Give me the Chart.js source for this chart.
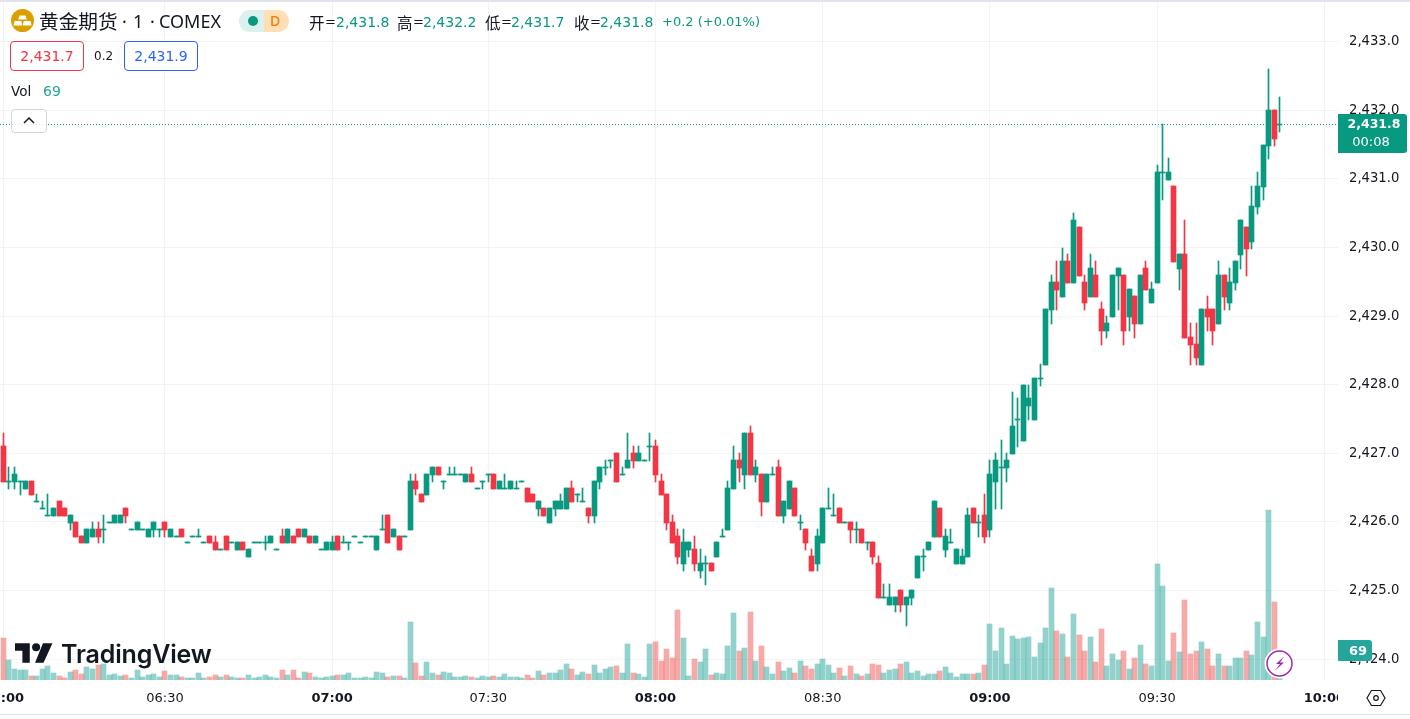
<!DOCTYPE html>
<html>
<head>
<meta charset="utf-8">
<title>黄金期货 COMEX</title>
<script src="https://cdn.jsdelivr.net/npm/chart.js@4/dist/chart.umd.min.js"></script>
<style>
  html, body { margin: 0; padding: 0; background: #fff; overflow: hidden; }
  body { width: 1410px; height: 719px; position: relative; font-family: "DejaVu Sans", "Noto Sans CJK SC", sans-serif; color: #131722; }
  canvas { position: absolute; left: 0; top: 0; }
  .t { position: absolute; white-space: nowrap; line-height: 20px; font-size: 14px; }
  .c { font-family: "Noto Sans CJK SC"; font-size: 15.5px; }
  .s { font-family: "Noto Sans"; font-size: 18px; }
  .up { color: #089981; }
  .box { position: absolute; top: 41px; width: 72px; height: 28px; border: 1px solid; border-radius: 4px; background: #fff; text-align: center; line-height: 28px; font-size: 14px; }
  .edge { position: absolute; left: 0; width: 1410px; background: #e0e3eb; }
</style>
</head>
<body>
<canvas id="chart" width="1410" height="719"></canvas>
<div class="edge" style="top:0;height:2px"></div>
<div class="edge" style="top:714px;height:1px"></div>

<svg style="position:absolute;left:11px;top:9px" width="23" height="23" viewBox="0 0 23 23">
  <circle cx="11.5" cy="11.5" r="11.5" fill="#dc9f00"/>
  <path d="M8.5 6.5h6l1.2 4H7.3zM3.5 12h6.8l1 4.5H2.5zM12.7 12h6.8l1 4.5h-8.8z" fill="#fff"/>
</svg>
<div class="t" style="left:39px;top:11px;font-family:'Noto Sans CJK SC';font-size:19.700px">黄金期货</div>
<div class="t s" style="left:122px;top:11px">·</div>
<div class="t s" style="left:133px;top:11px">1</div>
<div class="t s" style="left:150px;top:11px">·</div>
<div class="t s" style="left:159px;top:11px">COMEX</div>
<div style="position:absolute;left:239px;top:10px;width:25px;height:22px;background:#daf1ed;border-radius:11px 0 0 11px"></div>
<div style="position:absolute;left:248px;top:16px;width:10px;height:10px;background:#089981;border-radius:5px"></div>
<div style="position:absolute;left:264px;top:10px;width:25px;height:22px;background:#ffdfb5;border-radius:0 11px 11px 0"></div>
<div class="t" style="left:270px;top:11px;color:#f57c00;font-family:'Noto Sans';font-weight:500">D</div>

<div class="t c" style="left:309px;top:12px">开</div><div class="t" style="left:325px;top:12px;font-size:13px">=</div><div class="t up" style="left:336px;top:12px">2,431.8</div>
<div class="t c" style="left:397px;top:12px">高</div><div class="t" style="left:413px;top:12px;font-size:13px">=</div><div class="t up" style="left:423px;top:12px">2,432.2</div>
<div class="t c" style="left:485px;top:12px">低</div><div class="t" style="left:501px;top:12px;font-size:13px">=</div><div class="t up" style="left:511px;top:12px">2,431.7</div>
<div class="t c" style="left:574px;top:12px">收</div><div class="t" style="left:590px;top:12px;font-size:13px">=</div><div class="t up" style="left:600px;top:12px">2,431.8</div>
<div class="t up" style="left:662px;top:12px;font-size:13px">+0.2 (+0.01%)</div>

<div class="box" style="left:10px;border-color:#f23645;color:#f23645">2,431.7</div>
<div class="t" style="left:94px;top:46px;font-size:12px">0.2</div>
<div class="box" style="left:124px;border-color:#2962ff;color:#2962ff">2,431.9</div>
<div class="t" style="left:11px;top:81px;font-size:13.500px">Vol</div>
<div class="t" style="left:43px;top:81px;color:#26a69a">69</div>
<div style="position:absolute;left:11px;top:109px;width:34px;height:22px;border:1px solid #d1d4dc;border-radius:4px;background:rgba(255,255,255,.85)"></div>
<svg style="position:absolute;left:22px;top:116px" width="14" height="9" viewBox="0 0 14 9"><path d="M2 7l5-5 5 5" fill="none" stroke="#131722" stroke-width="1.5"/></svg>

<svg style="position:absolute;left:15px;top:643px" width="38" height="20" viewBox="0 0 36 18.5">
  <path d="M14 18.5H7V7H0V0h14zM27 18.5h-8L26.5 0h9z" fill="#131722"/><circle cx="20" cy="3.8" r="3.8" fill="#131722"/>
</svg>
<div class="t" style="left:61px;top:639px;font-family:Inter;font-weight:600;font-size:25px;line-height:30px;letter-spacing:-.15px">TradingView</div>

<div style="position:absolute;left:1338px;top:114px;width:69px;height:39px;background:#089981;border-radius:0 3px 3px 0"></div>
<div class="t" style="left:1338px;width:72px;top:114px;color:#fff;text-align:center;font-weight:bold;font-size:12.500px">2,431.8</div>
<div class="t" style="left:1338px;width:72px;top:132px;color:#fff;text-align:center;font-size:13px;margin-left:-3px">00:08</div>
<div style="position:absolute;left:1338px;top:640px;width:34px;height:21px;background:#26a69a;border-radius:0 3px 3px 0"></div>
<div class="t" style="left:1338px;width:40px;top:641px;color:#fff;text-align:center;font-weight:bold;font-size:13px">69</div>

<svg style="position:absolute;left:1264px;top:648px" width="31" height="31" viewBox="0 0 31 31">
  <circle cx="15.5" cy="15.5" r="15" fill="#fff"/>
  <circle cx="15.5" cy="15.5" r="12.500" fill="#fff" stroke="#9c27b0" stroke-width="1.500"/>
  <path d="M20 8.500l-8 7.500h4l-5 6.500 9-8h-4z" fill="#9c27b0"/>
</svg>
<svg style="position:absolute;left:1366px;top:689px" width="20" height="18" viewBox="0 0 20 18">
  <path d="M5.500 1.500h9L19 9l-4.500 7.500h-9L1 9z" fill="none" stroke="#131722" stroke-width="1.200"/><circle cx="10" cy="9" r="2.300" fill="none" stroke="#131722" stroke-width="1.200"/>
</svg>

<script>
const opens = [
  2427.1,2426.6,2426.6,2426.6,2426.5,2426.6,2426.3,2426.2,2426.1,2426.1,
  2426.3,2426.2,2426.0,2426.0,2425.8,2425.7,2425.8,2425.9,2425.9,2426.0,
  2426.0,2426.0,2426.2,2425.9,2425.9,2425.9,2425.8,2425.9,2425.9,2426.0,
  2425.8,2425.8,2425.9,2425.7,2425.8,2425.8,2425.7,2425.8,2425.7,2425.6,
  2425.8,2425.7,2425.6,2425.7,2425.5,2425.7,2425.7,2425.7,2425.7,2425.6,
  2425.8,2425.7,2425.8,2425.9,2425.8,2425.8,2425.7,2425.6,2425.6,2425.6,
  2425.8,2425.7,2425.7,2425.8,2425.7,2425.8,2425.8,2425.6,2425.9,2426.1,
  2425.8,2425.8,2425.8,2425.9,2426.6,2426.4,2426.4,2426.7,2426.8,2426.6,
  2426.7,2426.7,2426.7,2426.6,2426.7,2426.5,2426.6,2426.7,2426.7,2426.5,
  2426.5,2426.5,2426.5,2426.6,2426.5,2426.4,2426.2,2426.2,2426.0,2426.2,
  2426.2,2426.2,2426.5,2426.4,2426.3,2426.2,2426.1,2426.6,2426.8,2426.9,
  2427.0,2426.7,2426.8,2427.0,2426.9,2426.9,2427.1,2427.1,2426.6,2426.4,
  2426.0,2425.8,2425.4,2425.6,2425.6,2425.3,2425.4,2425.4,2425.5,2425.8,
  2425.9,2426.5,2426.9,2426.7,2427.3,2426.7,2426.7,2426.3,2426.7,2426.8,
  2426.1,2426.2,2426.5,2426.0,2425.9,2425.5,2425.4,2425.7,2426.2,2426.1,
  2426.2,2426.0,2426.0,2425.9,2425.9,2425.7,2425.7,2425.4,2424.9,2424.8,
  2424.8,2425.0,2424.8,2424.9,2425.2,2425.5,2425.6,2425.8,2426.2,2425.6,
  2425.7,2425.4,2425.4,2425.5,2426.2,2426.0,2426.1,2425.9,2426.6,2426.8,
  2426.8,2427.0,2427.5,2427.2,2427.7,2427.5,2428.1,2428.3,2429.1,2429.5,
  2429.3,2429.8,2429.5,2430.3,2429.5,2429.3,2429.6,2429.1,2428.8,2429.0,
  2429.6,2429.6,2429.0,2429.3,2428.9,2429.7,2429.2,2429.5,2431.1,2431.0,
  2430.9,2429.7,2429.9,2428.7,2428.6,2428.3,2429.1,2429.1,2428.9,2429.6,
  2429.2,2429.5,2429.9,2430.3,2430.1,2430.6,2430.9,2431.5,2432.0,2431.8
];
const closes = [
  2426.6,2426.6,2426.7,2426.6,2426.6,2426.4,2426.3,2426.2,2426.1,2426.2,
  2426.1,2426.1,2426.1,2425.8,2425.7,2425.9,2425.9,2425.8,2425.9,2426.0,
  2426.1,2426.1,2426.1,2425.9,2426.0,2425.9,2425.9,2426.0,2425.9,2425.9,
  2425.9,2425.8,2425.8,2425.7,2425.8,2425.8,2425.7,2425.7,2425.6,2425.6,
  2425.6,2425.7,2425.7,2425.6,2425.6,2425.7,2425.7,2425.7,2425.8,2425.6,
  2425.7,2425.9,2425.7,2425.8,2425.9,2425.7,2425.8,2425.6,2425.7,2425.7,
  2425.6,2425.7,2425.7,2425.8,2425.7,2425.8,2425.8,2425.8,2425.9,2425.7,
  2425.9,2425.6,2425.8,2426.6,2426.5,2426.3,2426.7,2426.8,2426.7,2426.6,
  2426.7,2426.7,2426.7,2426.7,2426.6,2426.5,2426.6,2426.7,2426.5,2426.6,
  2426.5,2426.6,2426.5,2426.6,2426.3,2426.3,2426.3,2426.1,2426.2,2426.3,
  2426.3,2426.5,2426.3,2426.4,2426.3,2426.1,2426.6,2426.8,2426.8,2426.9,
  2426.6,2426.7,2426.9,2426.9,2427.0,2426.9,2427.1,2426.7,2426.4,2426.0,
  2425.7,2425.5,2425.7,2425.7,2425.4,2425.4,2425.4,2425.3,2425.7,2425.8,
  2426.5,2426.9,2426.8,2427.3,2426.7,2426.8,2426.3,2426.7,2426.7,2426.1,
  2426.3,2426.6,2426.1,2426.0,2425.7,2425.3,2425.8,2426.2,2426.2,2426.1,
  2426.0,2426.0,2425.9,2425.9,2425.7,2425.7,2425.5,2424.9,2424.9,2424.9,
  2424.9,2424.8,2424.9,2425.0,2425.5,2425.5,2425.7,2426.3,2425.8,2425.8,
  2425.7,2425.6,2425.5,2426.1,2426.0,2426.0,2425.8,2426.7,2426.9,2426.8,
  2426.9,2427.4,2427.5,2428.0,2427.8,2428.1,2428.1,2429.1,2429.5,2429.4,
  2429.8,2429.5,2430.4,2429.6,2429.2,2429.7,2429.3,2428.8,2428.9,2429.6,
  2429.7,2428.8,2429.4,2428.9,2429.6,2429.4,2429.4,2431.1,2431.1,2431.1,
  2429.8,2429.9,2428.7,2428.6,2428.4,2429.1,2429.0,2428.8,2429.6,2429.3,
  2429.5,2429.8,2430.4,2430.0,2430.6,2430.9,2431.5,2432.0,2431.6,2431.8
];
const highs = [
  2427.3,2426.8,2426.8,2426.6,2426.6,2426.6,2426.4,2426.3,2426.4,2426.2,
  2426.3,2426.2,2426.1,2426.0,2425.8,2425.9,2426.0,2426.0,2426.1,2426.0,
  2426.1,2426.1,2426.2,2425.9,2426.0,2425.9,2425.9,2426.0,2425.9,2426.0,
  2425.9,2425.8,2425.9,2425.7,2425.8,2425.9,2425.7,2425.8,2425.8,2425.6,
  2425.8,2425.7,2425.7,2425.7,2425.6,2425.7,2425.7,2425.8,2425.8,2425.6,
  2425.9,2425.9,2425.8,2425.9,2425.9,2425.8,2425.8,2425.6,2425.7,2425.8,
  2425.8,2425.8,2425.7,2425.8,2425.7,2425.8,2425.8,2425.8,2426.1,2426.1,
  2425.9,2425.8,2425.8,2426.7,2426.7,2426.4,2426.7,2426.8,2426.8,2426.6,
  2426.8,2426.8,2426.7,2426.7,2426.8,2426.5,2426.6,2426.7,2426.7,2426.6,
  2426.7,2426.6,2426.6,2426.6,2426.5,2426.4,2426.3,2426.2,2426.2,2426.3,
  2426.4,2426.5,2426.6,2426.4,2426.5,2426.2,2426.6,2426.8,2426.9,2426.9,
  2427.0,2426.8,2427.3,2427.1,2427.1,2426.9,2427.3,2427.2,2426.7,2426.4,
  2426.1,2425.9,2425.9,2425.7,2425.8,2425.6,2425.5,2425.4,2425.7,2425.9,
  2426.6,2427.1,2427.0,2427.3,2427.4,2426.9,2426.7,2426.7,2426.8,2426.9,
  2426.3,2426.6,2426.5,2426.1,2425.9,2425.6,2425.9,2426.2,2426.5,2426.4,
  2426.2,2426.0,2426.0,2426.0,2425.9,2425.7,2425.7,2425.5,2425.1,2425.1,
  2424.9,2425.0,2424.9,2425.0,2425.5,2425.6,2425.7,2426.3,2426.2,2425.9,
  2425.9,2425.6,2425.6,2426.2,2426.2,2426.1,2426.4,2426.9,2427.0,2427.2,
  2427.0,2427.9,2427.8,2428.0,2428.0,2428.1,2428.3,2429.1,2429.6,2429.8,
  2430.0,2429.9,2430.5,2430.3,2429.6,2429.9,2429.8,2429.2,2429.0,2429.6,
  2429.7,2429.6,2429.4,2429.3,2429.6,2429.8,2429.5,2431.2,2431.8,2431.3,
  2430.9,2429.9,2430.4,2428.9,2428.9,2429.1,2429.3,2429.1,2429.8,2429.6,
  2429.7,2429.8,2430.4,2430.3,2430.9,2431.1,2431.5,2432.6,2432.0,2432.2
];
const lows = [
  2426.6,2426.5,2426.5,2426.4,2426.5,2426.4,2426.3,2426.2,2426.1,2426.1,
  2426.1,2426.1,2425.9,2425.8,2425.7,2425.7,2425.8,2425.7,2425.7,2426.0,
  2426.0,2426.0,2426.0,2425.9,2425.9,2425.9,2425.8,2425.8,2425.8,2425.8,
  2425.8,2425.8,2425.8,2425.7,2425.8,2425.8,2425.7,2425.7,2425.6,2425.6,
  2425.6,2425.7,2425.6,2425.6,2425.5,2425.7,2425.7,2425.6,2425.7,2425.6,
  2425.7,2425.7,2425.7,2425.8,2425.8,2425.7,2425.7,2425.6,2425.6,2425.6,
  2425.6,2425.7,2425.6,2425.8,2425.7,2425.8,2425.8,2425.6,2425.9,2425.7,
  2425.8,2425.6,2425.8,2425.9,2426.4,2426.3,2426.4,2426.6,2426.7,2426.5,
  2426.7,2426.7,2426.7,2426.6,2426.6,2426.5,2426.5,2426.6,2426.5,2426.5,
  2426.5,2426.5,2426.5,2426.6,2426.3,2426.3,2426.1,2426.1,2426.0,2426.1,
  2426.2,2426.2,2426.3,2426.3,2426.3,2426.0,2426.0,2426.5,2426.7,2426.8,
  2426.6,2426.7,2426.8,2426.8,2426.9,2426.9,2426.9,2426.6,2426.4,2425.9,
  2425.7,2425.4,2425.3,2425.5,2425.3,2425.2,2425.1,2425.3,2425.5,2425.8,
  2425.9,2426.5,2426.6,2426.5,2426.7,2426.6,2426.1,2426.3,2426.7,2426.1,
  2426.0,2426.2,2426.1,2425.9,2425.6,2425.3,2425.3,2425.7,2426.2,2426.1,
  2426.0,2426.0,2425.7,2425.7,2425.7,2425.6,2425.4,2424.9,2424.9,2424.8,
  2424.7,2424.7,2424.5,2424.8,2425.2,2425.3,2425.6,2425.8,2425.8,2425.5,
  2425.7,2425.4,2425.4,2425.5,2426.0,2425.8,2425.7,2425.8,2426.2,2426.2,
  2426.6,2427.0,2427.1,2427.2,2427.5,2427.5,2428.0,2428.3,2428.9,2429.1,
  2429.3,2429.5,2429.5,2429.6,2429.1,2429.3,2429.3,2428.6,2428.7,2429.0,
  2429.1,2428.6,2428.8,2428.7,2428.9,2429.4,2429.2,2429.5,2430.7,2431.0,
  2429.8,2429.4,2428.7,2428.3,2428.3,2428.3,2428.8,2428.6,2428.9,2429.1,
  2429.1,2429.4,2429.7,2429.6,2430.0,2430.5,2430.7,2431.3,2431.5,2431.7
];
const volumes = [
  100,48,26,24,24,10,10,26,33,17,
  10,5,19,24,14,31,26,36,38,12,
  14,10,12,5,24,7,12,14,7,21,
  12,12,7,5,5,17,5,7,12,7,
  12,7,5,5,12,5,7,12,7,5,
  24,12,24,5,19,17,7,5,7,10,
  12,12,17,5,5,7,5,19,17,7,
  10,10,5,138,40,10,43,17,12,19,
  17,7,7,10,7,5,10,7,10,7,
  14,7,7,5,12,5,21,12,17,17,
  24,38,26,12,19,14,36,17,26,31,
  33,17,86,17,14,7,86,90,45,74,
  52,167,100,10,50,43,74,12,17,14,
  81,159,69,76,162,45,81,31,14,43,
  21,29,17,45,33,26,38,50,36,17,
  29,10,33,14,10,14,38,36,17,24,
  26,38,43,17,21,10,14,14,21,31,
  17,7,14,14,14,17,36,133,69,124,
  38,105,98,100,102,55,88,124,219,117,
  109,55,157,107,69,102,43,121,33,62,
  48,69,26,52,83,38,33,276,224,45,
  112,67,190,62,69,90,74,33,62,33,
  33,52,52,69,60,138,102,405,186,69
];
const timeTicks = [0, 29, 59, 87, 117, 147, 177, 207, 237];
const timeLabels = ['06:00', '06:30', '07:00', '07:30', '08:00', '08:30', '09:00', '09:30', '10:00'];
const priceTicks = [2424, 2425, 2426, 2427, 2428, 2429, 2430, 2431, 2432, 2433];
const priceLabels = ['2,424.0', '2,425.0', '2,426.0', '2,427.0', '2,428.0', '2,429.0', '2,430.0', '2,431.0', '2,432.0', '2,433.0'];

const UP = '#089981';
const DOWN = '#f23645';
const X_MIN = -0.592;
const X_MAX = 239.45;
const lastClose = closes[closes.length - 1];
const isDown = (i) => closes[i] < opens[i];

// one pixel wicks and bodies stay sharp, same as the original candles
const snapBars = {
  id: 'snapBars',
  afterDatasetsUpdate(chart) {
    chart.data.datasets.forEach((ds, n) => {
      if (!ds.snap) return;
      chart.getDatasetMeta(n).data.forEach((el) => {
        if (ds.snap === 'line') {
          el.y = Math.round(el.y) + 0.5;
          return;
        }
        el.x = Math.round(el.x - 0.5) + 0.5;
        const top = Math.round(Math.min(el.y, el.base));
        const bottom = Math.round(Math.max(el.y, el.base));
        el.y = top;
        el.base = ds.snap === 'candle' ? bottom + 1 : bottom;
      });
    });
  },
};

// the 10:00 label is cut by the price axis
const cutLabel = {
  id: 'cutLabel',
  afterDraw(chart) {
    const { ctx, chartArea } = chart;
    ctx.save();
    ctx.fillStyle = '#fff';
    ctx.fillRect(chartArea.right, chartArea.bottom + 1, 72, 32);
    ctx.restore();
  },
};

new Chart(document.getElementById('chart'), {
  type: 'bar',
  plugins: [snapBars, cutLabel],
  data: {
    datasets: [
      {
        type: 'line',
        data: [{ x: X_MIN, y: lastClose }, { x: X_MAX, y: lastClose }],
        borderColor: UP,
        borderWidth: 1,
        borderDash: [1, 2],
        pointRadius: 0,
        snap: 'line',
        order: 3,
        yAxisID: 'y',
      },
      {
        data: opens.map((o, i) => ({ x: i, y: [lows[i], highs[i]] })),
        backgroundColor: opens.map((o, i) => (isDown(i) ? DOWN : UP)),
        barThickness: 1,
        grouped: false,
        snap: 'candle',
        order: 2,
        yAxisID: 'y',
      },
      {
        data: opens.map((o, i) => ({ x: i, y: [o, closes[i]] })),
        backgroundColor: opens.map((o, i) => (isDown(i) ? DOWN : UP)),
        barThickness: 5,
        grouped: false,
        snap: 'candle',
        order: 1,
        yAxisID: 'y',
      },
      {
        data: volumes.map((v, i) => ({ x: i, y: v })),
        backgroundColor: volumes.map((v, i) => (isDown(i) ? 'rgba(239,83,80,0.5)' : 'rgba(38,166,154,0.5)')),
        barThickness: 5,
        grouped: false,
        snap: 'volume',
        order: 4,
        yAxisID: 'vol',
      },
    ],
  },
  options: {
    responsive: false,
    animation: false,
    events: [],
    layout: { padding: { top: 2, bottom: 5 } },
    plugins: { legend: { display: false }, tooltip: { enabled: false } },
    scales: {
      x: {
        type: 'linear',
        offset: false,
        min: X_MIN,
        max: X_MAX,
        afterBuildTicks(scale) { scale.ticks = timeTicks.map((v) => ({ value: v })); },
        afterFit(scale) {
          scale.height = 34;
          scale.paddingLeft = 0;
          scale.paddingRight = 0;
        },
        border: { display: false },
        grid: { color: '#f2f3f5', drawTicks: false, offset: false },
        ticks: {
          autoSkip: false,
          maxRotation: 0,
          padding: 11,
          color: '#131722',
          font: (c) => ({
            family: '"DejaVu Sans"',
            size: 13,
            weight: c.tick && timeLabels[timeTicks.indexOf(c.tick.value)].endsWith(':00') ? 'bold' : 'normal',
          }),
          callback: (v) => timeLabels[timeTicks.indexOf(v)],
        },
      },
      y: {
        position: 'right',
        min: 2423.695,
        max: 2433.579,
        afterBuildTicks(scale) { scale.ticks = priceTicks.map((v) => ({ value: v })); },
        afterFit(scale) {
          scale.width = 72;
          scale.paddingTop = 0;
          scale.paddingBottom = 0;
        },
        border: { display: false },
        grid: { color: '#f2f3f5', drawTicks: false },
        ticks: {
          padding: 11,
          color: '#131722',
          font: { family: '"DejaVu Sans"', size: 13.2 },
          callback: (v) => priceLabels[priceTicks.indexOf(v)],
        },
      },
      vol: { display: false, min: 0, max: 1613 },
    },
  },
});
</script>
</body>
</html>
